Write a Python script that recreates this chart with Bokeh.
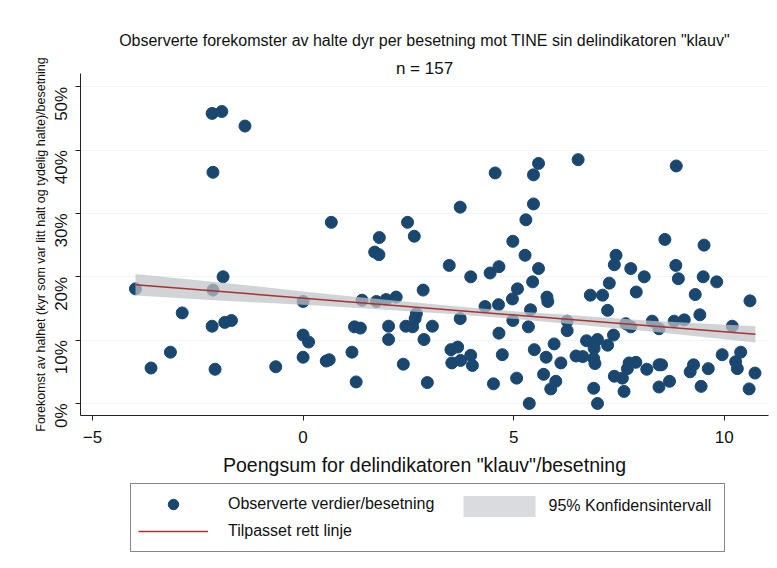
import math
from bokeh.plotting import figure
from bokeh.layouts import column
from bokeh.models import (Range1d, FixedTicker, Legend, LegendItem, Title,
                          PrintfTickFormatter)
from bokeh.embed import file_html
from bokeh.resources import INLINE

title_text = 'Observerte forekomster av halte dyr per besetning mot TINE sin delindikatoren "klauv"'
subtitle_text = "n = 157"
x_label = 'Poengsum for delindikatoren "klauv"/besetning'
y_label = "Forekomst av halhet (kyr som var litt halt og tydelig halte)/besetning"
legend_scatter = "Observerte verdier/besetning"
legend_band = "95% Konfidensintervall"
legend_line = "Tilpasset rett linje"

# observed values (score, lame percent)
score = [-3.98, -3.61, -3.15, -2.87, -2.16, -1.93, -2.14, -1.90, -2.14, -2.16, -1.86, -1.70,
         -2.09, -1.38, -0.65, 0.00, 0.00, 0.13, 0.00, 0.55, 0.62, 0.67, 1.16, 1.22, 1.36, 1.26,
         1.40, 1.70, 1.80, 1.81, 1.74, 1.97, 2.21, 2.03, 2.03, 2.38, 2.44, 2.60, 2.66, 2.69,
         2.48, 2.64, 2.85, 2.87, 2.95, 3.07, 3.47, 3.51, 3.67, 3.53, 3.74, 3.73, 3.73, 3.98,
         3.98, 4.02, 4.32, 4.44, 4.56, 4.52, 4.64, 4.65, 4.65, 4.73, 4.98, 4.97, 4.98, 5.07,
         5.09, 5.27, 5.29, 5.47, 5.47, 5.59, 5.59, 5.45, 5.40, 5.35, 5.79, 5.81, 5.49, 5.77,
         5.96, 6.12, 5.71, 5.88, 6.00, 5.37, 6.27, 6.27, 6.53, 6.48, 6.64, 6.82, 7.11, 6.73,
         6.99, 7.23, 6.91, 6.90, 6.93, 6.90, 6.99, 7.23, 7.27, 7.43, 7.39, 7.37, 7.39, 7.58,
         7.62, 7.66, 7.78, 7.74, 7.90, 7.70, 7.78, 7.91, 8.10, 8.16, 8.29, 8.45, 8.45, 8.51,
         8.45, 8.70, 8.59, 8.81, 9.05, 8.85, 8.91, 8.86, 9.19, 9.27, 9.45, 9.62, 9.31, 9.42,
         9.50, 9.52, 9.82, 9.95, 10.19, 10.39, 10.27, 10.31, 10.61, 10.73, 10.59]
lame_pct = [18.1, 5.6, 8.1, 14.3, 45.8, 46.1, 36.5, 20.0, 17.9, 12.2, 12.8, 13.1,
            5.4, 43.8, 5.8, 16.1, 10.8, 9.7, 7.3, 6.7, 6.9, 28.6, 8.1, 12.1, 11.9, 3.4,
            16.3, 23.9, 23.5, 26.2, 16.1, 16.4, 16.8, 12.2, 10.1, 6.2, 12.2, 12.1, 13.4, 14.2,
            28.6, 26.4, 17.9, 10.1, 3.3, 12.2, 21.8, 8.5, 8.9, 6.4, 6.8, 13.4, 31.0, 20.0,
            7.6, 6.0, 15.3, 20.6, 36.4, 3.1, 15.6, 21.6, 11.1, 7.7, 25.6, 16.5, 13.1, 4.0,
            18.1, 23.4, 29.0, 31.5, 36.1, 37.9, 21.3, 19.2, 14.8, 12.1, 16.8, 16.1, 8.5, 7.3,
            9.4, 6.4, 4.6, 2.3, 3.5, 0.0, 11.5, 13.0, 38.5, 7.5, 7.4, 17.1, 17.1, 9.9,
            10.1, 9.2, 8.7, 7.1, 6.3, 2.4, 0.0, 14.7, 19.0, 23.4, 21.9, 10.8, 4.3, 4.0,
            1.9, 12.6, 12.1, 6.4, 6.5, 5.5, 21.3, 17.6, 20.0, 5.4, 13.0, 11.8, 6.1, 6.1,
            2.6, 3.5, 25.9, 13.0, 13.2, 21.8, 19.7, 37.5, 5.0, 6.1, 2.7, 5.5, 17.2, 14.0,
            20.0, 25.0, 19.2, 7.7, 12.2, 8.1, 6.6, 5.5, 16.2, 4.8, 2.3]

# fitted line and 95% confidence band
fit_x = [-3.98, 10.74]
fit_y = [18.75, 10.91]
ci_x = [-3.98, -1.8, 0.0, 1.4, 3.5, 5.0, 6.4, 8.25, 10.74]
ci_lo = [17.05, 16.19, 15.58, 15.03, 14.11, 13.36, 12.52, 11.38, 9.61]
ci_hi = [20.45, 18.99, 17.68, 16.73, 15.41, 14.56, 13.92, 13.08, 12.21]

x_ticks = [-5, 0, 5, 10]
y_ticks = [0, 10, 20, 30, 40, 50]

FONT = "Liberation Sans"
NAVY = "#1a476f"
BAND = "#bfc3c8"
RED = "#a8322f"
TXT = "#111111"
W = 769

# ---------------- main chart ----------------
p = figure(width=W, height=451, output_backend="svg", toolbar_location=None,
           x_range=Range1d(-5.285, 11.05), y_range=Range1d(-1.9, 52.1),
           min_border_left=80, min_border_right=1, min_border_top=73,
           min_border_bottom=36)
p.outline_line_color = None
p.background_fill_color = "white"
p.border_fill_color = "white"

sc = p.scatter(score, lame_pct, size=12, fill_color=NAVY, line_color=NAVY)
band = p.varea(x=ci_x, y1=ci_lo, y2=ci_hi, fill_color=BAND, fill_alpha=0.72)
ln = p.line(fit_x, fit_y, line_color=RED, line_width=1.5)

p.xaxis.ticker = FixedTicker(ticks=x_ticks)
p.yaxis.ticker = FixedTicker(ticks=y_ticks)
p.yaxis.formatter = PrintfTickFormatter(format="%d%%")
p.yaxis.major_label_orientation = math.pi / 2
for ax in (p.xaxis, p.yaxis):
    ax.minor_tick_line_color = None
    ax.major_tick_out = 5
    ax.major_tick_in = 0
    ax.axis_line_color = "#222222"
    ax.major_tick_line_color = "#222222"
    ax.major_label_text_font = FONT
    ax.major_label_text_font_size = "17px"
    ax.major_label_text_color = TXT
    ax.axis_label_text_font = FONT
    ax.axis_label_text_font_style = "normal"
    ax.axis_label_text_color = TXT
p.xaxis.major_label_standoff = 10
p.yaxis.axis_label = y_label
p.yaxis.axis_label_text_font_size = "12.5px"
p.yaxis.major_label_standoff = 14
p.yaxis.axis_label_standoff = -8

p.xgrid.grid_line_color = None
p.ygrid.grid_line_color = "#f2f3f4"

p.add_layout(Title(text=subtitle_text, align="center", text_font=FONT,
                   text_font_size="17px", text_font_style="normal",
                   text_color=TXT, standoff=-9), "above")
p.add_layout(Title(text=title_text, align="center", text_font=FONT,
                   text_font_size="16px", text_font_style="normal",
                   text_color=TXT, standoff=25), "above")

# ---------------- x-axis title + legend panel ----------------
lf = figure(width=W, height=101, output_backend="svg", toolbar_location=None,
            x_range=Range1d(100, 101), y_range=Range1d(100, 101),
            x_axis_type=None, y_axis_type=None,
            min_border_left=0, min_border_right=0, min_border_top=0,
            min_border_bottom=0)
lf.outline_line_color = None
lf.background_fill_color = "white"
lf.border_fill_color = "white"
lf.title.text = x_label
lf.title.align = "center"
lf.title.text_font = FONT
lf.title.text_font_size = "19.5px"
lf.title.text_font_style = "normal"
lf.title.text_color = TXT
lf.title.standoff = 0

# legend proxies (same data, outside the visible range of this panel)
l_sc = lf.scatter(score, lame_pct, size=12, fill_color=NAVY, line_color=NAVY)
l_ln = lf.line(fit_x, fit_y, line_color=RED, line_width=1.5)
l_band = lf.varea(x=ci_x, y1=ci_lo, y2=ci_hi, fill_color=BAND, fill_alpha=0.6)

leg_a = Legend(items=[LegendItem(label=legend_scatter, renderers=[l_sc]),
                      LegendItem(label=legend_line, renderers=[l_ln])],
               location=(50, 0), margin=0, padding=7, spacing=1,
               glyph_width=70, glyph_height=26, label_height=26,
               label_width=489, label_standoff=20,
               label_text_font=FONT, label_text_font_size="16px",
               label_text_color=TXT,
               border_line_color=TXT, border_line_width=1,
               background_fill_color="white", background_fill_alpha=1)
leg_b = Legend(items=[LegendItem(label=legend_band, renderers=[l_band])],
               location=(373.5, 33.5), margin=0, padding=0, spacing=0,
               glyph_width=90, glyph_height=26, label_height=26,
               label_standoff=5,
               label_text_font=FONT, label_text_font_size="16px",
               label_text_color=TXT,
               border_line_color=None, background_fill_alpha=0)
lf.add_layout(leg_a)
lf.add_layout(leg_b)

layout = column(p, lf, spacing=0)
open("out.html", "w").write(file_html(layout, INLINE))
